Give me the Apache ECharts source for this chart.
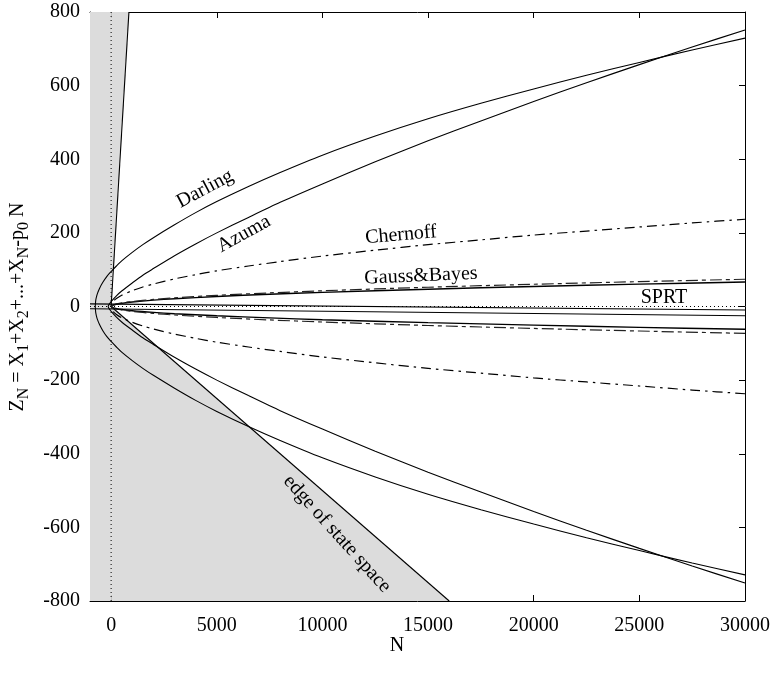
<!DOCTYPE html>
<html><head><meta charset="utf-8">
<script src="https://cdn.jsdelivr.net/npm/echarts@6/dist/echarts.min.js"></script>
<style>html,body{margin:0;padding:0;background:#fff}#c{width:774px;height:673px}</style>
</head><body><div id="c"></div>
<script>
// ---- data ----
const xTicks = [0, 5000, 10000, 15000, 20000, 25000, 30000];
const darlingN = [-750,-730,-700,-650,-550,-400,-200,0,250,500,1000,1500,2000,3000,4000,5000,6500,8000,10000,12500,15000,17500,20000,22500,25000,27500,30000];
const darlingZ = [0,16,24.5,35,49,65,82,95,110,124,147,168,187,222,255,285,326,364,411,463,510,552,591,628,663,697,729];
const azumaN = [-140,-120,-90,-50,0,250,500,1000,1500,2000,3000,4000,5000,6500,8000,10000,12500,15000,17500,20000,22500,25000,27500,30000];
const azumaZ = [0,3.3,6,9.6,13.4,29,42,64,85,103,138,170,200,242,283,333,393,450,504,557,608,657,705,751];
const chernN = [0,100,250,500,1000,1500,2000,3000,4000,5000,6500,8000,10000,12500,15000,17500,20000,22500,25000,27500,30000];
const chernZ = [0,13.7,21.6,30.6,43,53,61,75,86.5,97,110,122,137,153,168,181,194,205,216,227,237];
const gaussN = [0,100,250,500,1000,2000,3000,5000,7500,10000,15000,20000,25000,30000];
const gaussUp = [0,3.8,6.1,8.6,12.2,17.2,21,27.2,33.3,38.5,47,54.4,60.8,66.6];
const gaussLow = [0,-3.6,-5.7,-8,-11.4,-16,-19.6,-25.3,-31,-35.8,-43.8,-50.6,-56.6,-62];
const bayesUp = [0,4.3,6.8,9.6,13.5,19.1,23.4,30.2,37,42.7,52.3,60.4,67.6,74];
const bayesLow = [0,-4.2,-6.7,-9.4,-13.3,-18.8,-23.1,-29.8,-36.5,-42.1,-51.6,-59.6,-66.6,-73];
const sprtN = [-1000, 30000];
const sprtA = [7, -9.5];
const sprtB = [-6, -25];
const edgeUpN = [0, 842], edgeUpZ = [0, 800];
const edgeLowN = [0, 16000], edgeLowZ = [0, -800];
const leftBlockN = [-1000, 0], leftBlockZ = [800, 800];
const zeroN = [-1000, 30000], zeroZ = [0, 0];
const vZeroN = [0, 0], vZeroZ = [-800, 800];

// ---- helpers ----
const pairs = (xs, ys) => xs.map((x, i) => [x, ys[i]]);
function loop(ns, zs) { // lower branch (mirror) then upper branch
  const low = ns.map((n, i) => [n, -zs[i]]).reverse();
  const up = ns.map((n, i) => [n, zs[i]]).slice(1);
  return low.concat(up);
}
const FONT = "'Liberation Serif','Times New Roman',serif";
const shade = '#dcdcdc';
function line(data, opts) {
  return Object.assign({
    type: 'line', data, showSymbol: false, symbol: 'none', silent: true,
    lineStyle: { color: '#000', width: 1.1 }, z: 3, animation: false
  }, opts || {});
}
const chernDash = [10, 5, 2.5, 5];
const bayesDash = [12, 4, 4, 4];

const series = [
  line(pairs(leftBlockN, leftBlockZ), { lineStyle: { width: 0 }, areaStyle: { color: shade, opacity: 1, origin: 'start' }, z: 1 }),
  line(pairs(edgeUpN, edgeUpZ), { areaStyle: { color: shade, opacity: 1, origin: 'end' }, z: 2 }),
  line(pairs(edgeLowN, edgeLowZ), { areaStyle: { color: shade, opacity: 1, origin: 'start' }, z: 2 }),
  line(pairs(zeroN, zeroZ), { lineStyle: { color: '#000', width: 1, type: [1, 3] } }),
  line(pairs(vZeroN, vZeroZ), { lineStyle: { color: '#000', width: 1, type: [1, 3] } }),
  line(loop(darlingN, darlingZ), { smooth: 0.25 }),
  line(loop(azumaN, azumaZ), { smooth: 0.25 }),
  line(loop(chernN, chernZ), { smooth: 0.25, lineStyle: { color: '#000', width: 1.2, type: chernDash } }),
  line(pairs(gaussN, gaussUp), { smooth: 0.3, lineStyle: { color: '#000', width: 1.4 } }),
  line(pairs(gaussN, gaussLow), { smooth: 0.3, lineStyle: { color: '#000', width: 1.4 } }),
  line(pairs(gaussN, bayesUp), { smooth: 0.3, lineStyle: { color: '#222', width: 1.2, type: bayesDash } }),
  line(pairs(gaussN, bayesLow), { smooth: 0.3, lineStyle: { color: '#222', width: 1.2, type: bayesDash } }),
  line(pairs(sprtN, sprtA)),
  line(pairs(sprtN, sprtB))
];

const tickStyle = { inside: true, length: 6, lineStyle: { color: '#000', width: 1 } };
const axisLine = { show: true, onZero: false, lineStyle: { color: '#000', width: 1 } };
const labelStyle = { color: '#000', fontFamily: FONT, fontSize: 20 };
const plain = v => String(v);

const option = {
  animation: false,
  backgroundColor: '#fff',
  grid: { left: 90, right: 29, top: 12, bottom: 72, show: false },
  xAxis: [
    { type: 'value', min: -1000, max: 30000, position: 'bottom', axisLine,
      axisTick: Object.assign({ customValues: xTicks }, tickStyle),
      axisLabel: Object.assign({ customValues: xTicks, margin: 15, formatter: plain }, labelStyle),
      splitLine: { show: false } },
    { type: 'value', min: -1000, max: 30000, position: 'top', axisLine,
      axisTick: Object.assign({ customValues: xTicks }, tickStyle),
      axisLabel: { show: false }, splitLine: { show: false } }
  ],
  yAxis: [
    { type: 'value', min: -800, max: 800, interval: 200, position: 'left', axisLine,
      axisTick: tickStyle, axisLabel: Object.assign({ margin: 10, formatter: plain }, labelStyle), splitLine: { show: false } },
    { type: 'value', min: -800, max: 800, interval: 200, position: 'right', axisLine,
      axisTick: tickStyle, axisLabel: { show: false }, splitLine: { show: false } }
  ],
  series,
  graphic: [
    { type: 'text', x: 397, y: 646, style: { text: 'N', font: '20px ' + FONT, fill: '#000', align: 'center', verticalAlign: 'middle' }, z: 10 },
    { type: 'text', x: 18, y: 307, rotation: Math.PI / 2,
      style: { text: '{n|Z}{s|N}{n| = X}{s|1}{n|+X}{s|2}{n|+...+X}{s|N}{n|-p}{s|0}{n| N}',
        align: 'center', verticalAlign: 'middle', fill: '#000',
        rich: { n: { fontFamily: FONT, fontSize: 20, lineHeight: 28, verticalAlign: 'middle', fill: '#000' },
                s: { fontFamily: FONT, fontSize: 16, lineHeight: 28, verticalAlign: 'bottom', fill: '#000' } } }, z: 10 },
    { type: 'text', x: 205, y: 189, rotation: 28 * Math.PI / 180, style: { text: 'Darling', font: '20px ' + FONT, fill: '#000', align: 'center', verticalAlign: 'middle' }, z: 10 },
    { type: 'text', x: 244, y: 234, rotation: 29 * Math.PI / 180, style: { text: 'Azuma', font: '20px ' + FONT, fill: '#000', align: 'center', verticalAlign: 'middle' }, z: 10 },
    { type: 'text', x: 401, y: 235, rotation: 5 * Math.PI / 180, style: { text: 'Chernoff', font: '20px ' + FONT, fill: '#000', align: 'center', verticalAlign: 'middle' }, z: 10 },
    { type: 'text', x: 421, y: 276, rotation: 2.5 * Math.PI / 180, style: { text: 'Gauss&Bayes', font: '20px ' + FONT, fill: '#000', align: 'center', verticalAlign: 'middle' }, z: 10 },
    { type: 'text', x: 664, y: 298, style: { text: 'SPRT', font: '20px ' + FONT, fill: '#000', align: 'center', verticalAlign: 'middle' }, z: 10 },
    { type: 'text', x: 337, y: 534, rotation: -48 * Math.PI / 180, style: { text: 'edge of state space', font: '20px ' + FONT, fill: '#000', align: 'center', verticalAlign: 'middle' }, z: 10 }
  ]
};
const chart = echarts.init(document.getElementById('c'), null, { renderer: 'canvas' });
chart.setOption(option);
</script>
</body></html>
